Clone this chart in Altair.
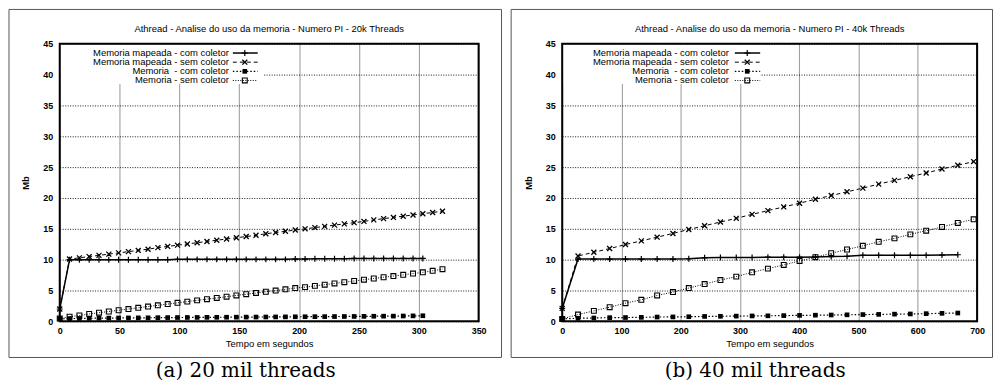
import altair as alt
import pandas as pd

TITLES = ["Athread - Analise do uso da memoria - Numero PI - 20k Threads",
          "Athread - Analise do uso da memoria - Numero PI - 40k Threads"]
CAPTIONS = ["(a) 20 mil threads", "(b) 40 mil threads"]
SERIES = ["Memoria mapeada - com coletor", "Memoria mapeada - sem coletor",
          "Memoria\u00a0 - com coletor", "Memoria - sem coletor"]
X_TITLE = "Tempo em segundos"
Y_TITLE = "Mb"
Y_TICKS = [0, 5, 10, 15, 20, 25, 30, 35, 40, 45]
X_TICKS_20 = [0, 50, 100, 150, 200, 250, 300, 350]
X_TICKS_40 = [0, 100, 200, 300, 400, 500, 600, 700]

# ---- 20k threads ----
T_20 = [0, 8.2, 16.4, 24.6, 32.8, 41.0, 49.2, 57.4, 65.6, 73.8, 82.0, 90.2, 98.4,
        106.6, 114.8, 123.0, 131.2, 139.4, 147.6, 155.8, 164.0, 172.2, 180.4, 188.6,
        196.8, 205.0, 213.2, 221.4, 229.6, 237.8, 246.0, 254.2, 262.4, 270.6, 278.8,
        287.0, 295.2, 303.4, 311.6, 319.8]
MAP_COM_20 = [2.0, 10.0, 10.0, 10.0, 10.0, 10.0, 10.0, 10.0, 10.0, 10.0, 10.0, 10.0,
              10.05, 10.05, 10.05, 10.05, 10.05, 10.05, 10.05, 10.05, 10.05, 10.05, 10.05, 10.05,
              10.1, 10.1, 10.15, 10.15, 10.15, 10.15, 10.2, 10.2, 10.2, 10.2, 10.2, 10.2, 10.2, 10.2]
MAP_SEM_20 = [2.0, 10.1, 10.3, 10.5, 10.7, 10.9, 11.1, 11.3, 11.5, 11.7, 11.95, 12.15, 12.35,
              12.55, 12.75, 12.95, 13.15, 13.35, 13.55, 13.75, 13.95, 14.2, 14.4, 14.6, 14.8,
              15.0, 15.2, 15.4, 15.6, 15.8, 16.0, 16.2, 16.45, 16.65, 16.85, 17.05, 17.25,
              17.45, 17.65, 17.85]
MEM_COM_20 = [0.40, 0.45, 0.48, 0.50, 0.52, 0.53, 0.55, 0.56, 0.57, 0.58, 0.60, 0.61, 0.62,
              0.63, 0.64, 0.65, 0.66, 0.67, 0.68, 0.69, 0.70, 0.71, 0.72, 0.73, 0.74, 0.75,
              0.76, 0.77, 0.78, 0.79, 0.80, 0.81, 0.83, 0.84, 0.85, 0.87, 0.89, 0.91]
MEM_SEM_20 = [0.45, 0.75, 0.95, 1.2, 1.4, 1.6, 1.8, 2.0, 2.2, 2.4, 2.6, 2.8, 3.0, 3.2, 3.4,
              3.6, 3.8, 4.0, 4.2, 4.4, 4.6, 4.8, 5.0, 5.2, 5.4, 5.55, 5.75, 5.95, 6.15, 6.35,
              6.55, 6.75, 6.95, 7.15, 7.35, 7.55, 7.75, 7.95, 8.2, 8.45]

# ---- 40k threads ----
T_40 = [0, 26.7, 53.4, 80.1, 106.8, 133.5, 160.2, 186.9, 213.6, 240.3, 267.0, 293.7,
        320.4, 347.1, 373.8, 400.5, 427.2, 453.9, 480.6, 507.3, 534.0, 560.7, 587.4,
        614.1, 640.8, 667.5, 694.2]
MAP_COM_40 = [2.1, 10.1, 10.1, 10.1, 10.1, 10.1, 10.1, 10.1, 10.15, 10.3, 10.35, 10.35,
              10.35, 10.4, 10.4, 10.4, 10.45, 10.5, 10.55, 10.7, 10.7, 10.7, 10.7, 10.7,
              10.75, 10.8]
MAP_SEM_40 = [2.1, 10.6, 11.2, 11.8, 12.45, 13.05, 13.65, 14.25, 14.9, 15.5, 16.1, 16.7,
              17.35, 17.95, 18.55, 19.15, 19.8, 20.4, 21.0, 21.6, 22.25, 22.85, 23.45,
              24.05, 24.7, 25.3, 25.9]
MEM_COM_40 = [0.40, 0.50, 0.55, 0.60, 0.62, 0.65, 0.70, 0.72, 0.75, 0.80, 0.82, 0.85,
              0.88, 0.90, 0.93, 0.97, 1.00, 1.03, 1.06, 1.10, 1.13, 1.17, 1.20, 1.25,
              1.30, 1.35]
MEM_SEM_40 = [0.4, 1.1, 1.7, 2.3, 2.95, 3.5, 4.2, 4.75, 5.4, 6.05, 6.7, 7.25, 7.95, 8.55,
              9.15, 9.8, 10.4, 11.05, 11.65, 12.25, 12.9, 13.45, 14.1, 14.7, 15.3, 15.95,
              16.55]

PLUS = "M-1,0L1,0M0,-1L0,1"
XMARK = "M-1,-1L1,1M-1,1L1,-1"
STYLES = [
    {"line": {"strokeWidth": 1.5},
     "point": {"shape": PLUS, "filled": False, "size": 36, "strokeWidth": 1.2}},
    {"line": {"strokeWidth": 1, "strokeDash": [4, 3]},
     "point": {"shape": XMARK, "filled": False, "size": 25, "strokeWidth": 1.3}},
    {"line": {"strokeWidth": 1.2, "strokeDash": [1.5, 2]},
     "point": {"shape": "square", "filled": True, "size": 22, "strokeWidth": 0.5}},
    {"line": {"strokeWidth": 1, "strokeDash": [1, 1.5]},
     "point": {"shape": "square", "filled": False, "size": 24, "strokeWidth": 1.1}},
]
FONT = "Liberation Sans"
H = 279
LEG_Y = [9.3, 18.5, 27.7, 36.9]


def dummy():
    return alt.Chart(pd.DataFrame({"k": [0]}))


def panel(times, series_values, xticks, title, caption, width,
          leg_text_x, leg_x1, leg_x2, leg_mark_x, leg_rect_x2, box_l, box_r, cap_x):
    xs = alt.Scale(domain=[xticks[0], xticks[-1]], nice=False, zero=False)
    ys = alt.Scale(domain=[Y_TICKS[0], Y_TICKS[-1]], nice=False)
    xaxis = alt.Axis(values=xticks, tickCount=len(xticks), grid=True, gridColor="#a0a0a0",
                     gridWidth=1.1, domain=False, ticks=False, labelFont=FONT, labelFontSize=9,
                     labelFontWeight="bold", labelColor="black", labelPadding=5,
                     labelFlush=False, labelOverlap=False, title=X_TITLE, titleFont=FONT,
                     titleFontSize=9.5, titleFontWeight="normal", titleColor="black",
                     titleY=22, titleBaseline="middle")
    yaxis = alt.Axis(values=Y_TICKS, tickCount=len(Y_TICKS), grid=True, gridColor="black",
                     gridDash=[1, 1.5], gridWidth=0.9, domain=False, ticks=False,
                     labelFont=FONT, labelFontSize=9, labelFontWeight="bold",
                     labelColor="black", labelPadding=7, labelOverlap=False,
                     labelFlush=False, title=Y_TITLE, titleFont=FONT, titleFontSize=9.5,
                     titleFontWeight="bold", titleColor="black", titleX=-34, titleY=H / 2,
                     titleAngle=270, titleAlign="center", titleBaseline="middle")
    enc = dict(x=alt.X("t:Q", scale=xs, axis=xaxis), y=alt.Y("v:Q", scale=ys, axis=yaxis))
    layers = []
    for vals, st in zip(series_values, STYLES):
        df = pd.DataFrame({"t": times[:len(vals)], "v": vals})
        layers.append(alt.Chart(df).mark_line(color="black", **st["line"]).encode(**enc))
        layers.append(alt.Chart(df).mark_point(color="black", opacity=1, **st["point"])
                      .encode(**enc))
    # opaque key box
    layers.append(dummy().mark_rect(color="white").encode(
        x=alt.value(1), x2=alt.value(leg_rect_x2), y=alt.value(1), y2=alt.value(40.5)))
    for lab, st, yy in zip(SERIES, STYLES, LEG_Y):
        layers.append(dummy().mark_text(text=lab, align="right", baseline="middle",
                                        font=FONT, fontSize=9.5, color="black")
                      .encode(x=alt.value(leg_text_x), y=alt.value(yy)))
        layers.append(dummy().mark_rule(color="black", **st["line"]).encode(
            x=alt.value(leg_x1), x2=alt.value(leg_x2), y=alt.value(yy)))
        layers.append(dummy().mark_point(color="black", opacity=1, **st["point"]).encode(
            x=alt.value(leg_mark_x), y=alt.value(yy)))
    # plot border
    layers.append(dummy().mark_rect(filled=False, stroke="black", strokeWidth=2).encode(
        x=alt.value(0), x2=alt.value(width), y=alt.value(0), y2=alt.value(H)))
    # outer frame of the sub figure
    layers.append(dummy().mark_rect(filled=False, stroke="#555555", strokeWidth=1).encode(
        x=alt.value(box_l), x2=alt.value(box_r), y=alt.value(-34.5), y2=alt.value(315.3)))
    # title
    layers.append(dummy().mark_text(text=title, align="center", baseline="middle",
                                    font=FONT, fontSize=9.5, color="black")
                  .encode(x=alt.value(width / 2), y=alt.value(-15)))
    # caption
    layers.append(dummy().mark_text(text=caption, align="center", baseline="middle",
                                    font="DejaVu Serif", fontSize=20, color="black")
                  .encode(x=alt.value(cap_x), y=alt.value(329)))
    return alt.layer(*layers).properties(width=width, height=H)


left = panel(T_20, [MAP_COM_20, MAP_SEM_20, MEM_COM_20, MEM_SEM_20], X_TICKS_20,
             TITLES[0], CAPTIONS[0], 421, 170, 174, 199, 186, 205, -51, 444, 187)
right = panel(T_40, [MAP_COM_40, MAP_SEM_40, MEM_COM_40, MEM_SEM_40], X_TICKS_40,
              TITLES[1], CAPTIONS[1], 417, 167.5, 173.5, 199, 186, 199, -51.3, 432.5, 194)

chart = (alt.hconcat(left, right, spacing=84, bounds="flush")
         .properties(padding=0, background="white")
         .configure_view(stroke=None))

chart.save("out.html", embed_options={"renderer": "svg", "actions": False})
